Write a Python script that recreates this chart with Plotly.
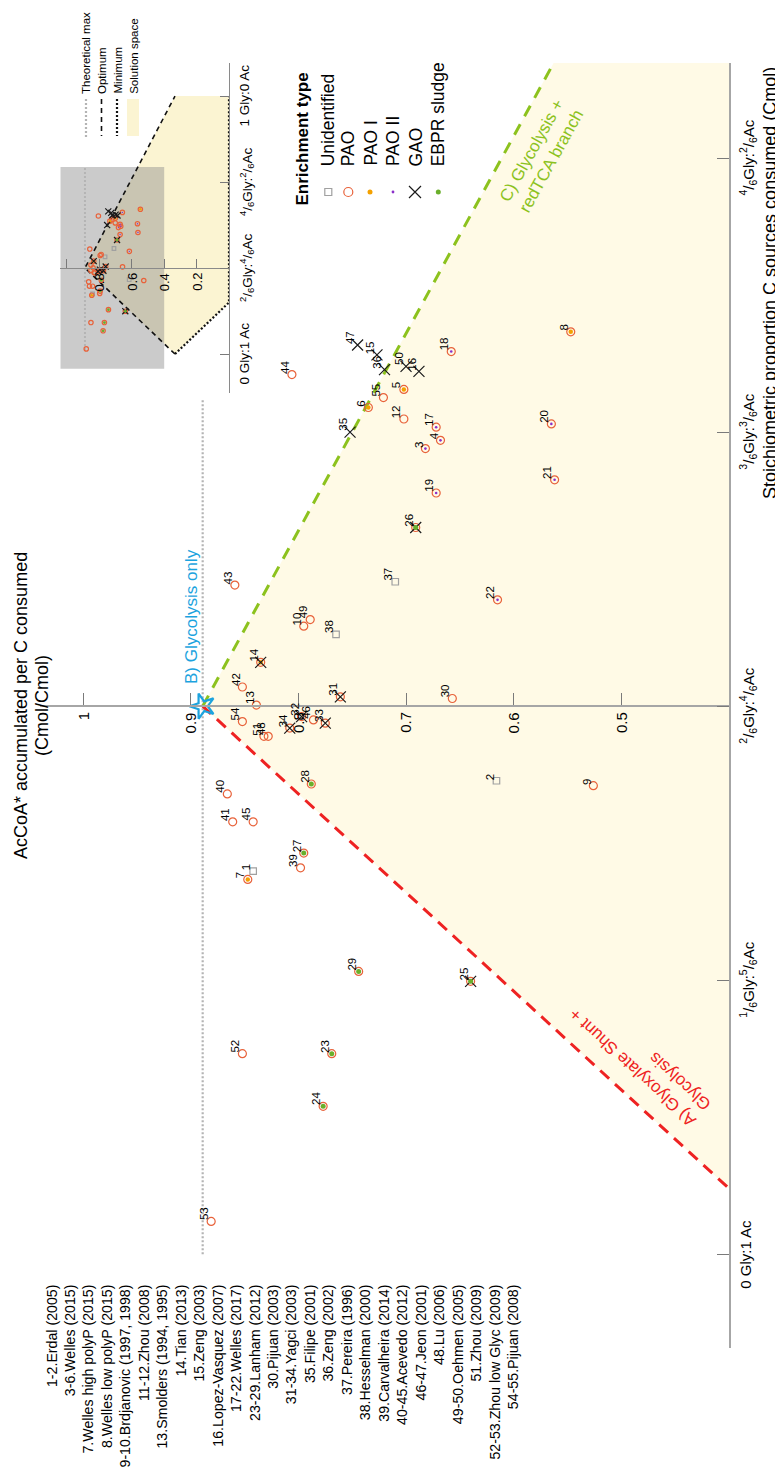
import plotly.graph_objects as go

# ---------------- data ----------------
ids = [1, 2, 3, 4, 5, 6, 7, 8, 9, 10, 12, 13, 14, 15, 16, 17, 18, 19, 20, 21, 22,
       23, 24, 25, 26, 27, 28, 29, 30, 31, 32, 33, 34, 35, 36, 37, 38, 39, 40, 41,
       42, 43, 44, 45, 46, 47, 48, 49, 50, 51, 52, 53, 54, 55]
# AcCoA* accumulated per C consumed (Cmol/Cmol)
acc = [0.842, 0.616, 0.682, 0.668, 0.702, 0.735, 0.847, 0.547, 0.526, 0.795, 0.702,
       0.839, 0.835, 0.727, 0.688, 0.672, 0.658, 0.672, 0.565, 0.562, 0.615,
       0.769, 0.777, 0.640, 0.691, 0.795, 0.788, 0.744, 0.657, 0.761, 0.797,
       0.775, 0.808, 0.752, 0.720, 0.710, 0.765, 0.798, 0.866, 0.861, 0.852,
       0.859, 0.806, 0.842, 0.786, 0.745, 0.828, 0.789, 0.700, 0.832, 0.852,
       0.881, 0.852, 0.721]
# stoichiometric proportion (glycogen fraction of C consumed)
stoich = [0.233, 0.288, 0.490, 0.495, 0.526, 0.515, 0.228, 0.561, 0.285, 0.382, 0.508,
          0.334, 0.360, 0.547, 0.537, 0.503, 0.549, 0.463, 0.505, 0.471, 0.398,
          0.122, 0.090, 0.166, 0.442, 0.244, 0.286, 0.172, 0.338, 0.339, 0.327,
          0.323, 0.320, 0.500, 0.538, 0.409, 0.377, 0.235, 0.280, 0.263, 0.345,
          0.407, 0.535, 0.263, 0.325, 0.553, 0.315, 0.386, 0.540, 0.315, 0.122,
          0.020, 0.324, 0.521]

unidentified = [1, 2, 37, 38]
pao = [3, 4, 5, 6, 7, 8, 9, 10, 12, 13, 14, 17, 18, 19, 20, 21, 22, 23, 24, 25, 26,
       27, 28, 29, 30, 31, 32, 33, 34, 39, 40, 41, 42, 43, 44, 45, 46, 48, 49, 51,
       52, 53, 54, 55]
pao_i = [5, 6, 7, 8, 14]
pao_ii = [3, 4, 17, 18, 19, 20, 21, 22]
gao = [14, 15, 16, 25, 26, 31, 32, 33, 34, 35, 36, 47, 50]
ebpr = [23, 24, 25, 26, 27, 28, 29]

# model lines (stoich, AcCoA)
opt_x = [0, 1 / 3, 1]
opt_y = [1 / 3, 8 / 9, 1 / 3]
min_x = [0, 0.2, 1]
min_y = [1 / 3, 0, 0]
theo_max = 8 / 9
theo_x_main = [0, 0.52]
theo_x_inset = [0.016, 0.725]
glyc_only = [1 / 3, 8 / 9]

acc_ticks = [0.5, 0.6, 0.7, 0.8, 0.9, 1.0]
acc_ticklabels = ["0.5", "0.6", "0.7", "0.8", "0.9", "1"]
st_ticks = [0, 1 / 6, 2 / 6, 3 / 6, 4 / 6]
st_ticklabels = ["0 Gly:1 Ac",
                 "<sup>1</sup>/<sub>6</sub>Gly:<sup>5</sup>/<sub>6</sub>Ac",
                 "<sup>2</sup>/<sub>6</sub>Gly:<sup>4</sup>/<sub>6</sub>Ac",
                 "<sup>3</sup>/<sub>6</sub>Gly:<sup>3</sup>/<sub>6</sub>Ac",
                 "<sup>4</sup>/<sub>6</sub>Gly:<sup>2</sup>/<sub>6</sub>Ac"]
in_acc_ticks = [0.2, 0.4, 0.6, 0.8, 1.0]
in_acc_ticklabels = ["0.2", "0.4", "0.6", "0.8", ""]
in_st_ticks = [0, 1 / 3, 2 / 3, 1]
in_st_ticklabels = ["0 Gly:1 Ac",
                    "<sup>2</sup>/<sub>6</sub>Gly:<sup>4</sup>/<sub>6</sub>Ac",
                    "<sup>4</sup>/<sub>6</sub>Gly:<sup>2</sup>/<sub>6</sub>Ac",
                    "1 Gly:0 Ac"]

citations = ["1-2.Erdal (2005)", "3-6.Welles (2015)", "7.Welles high polyP (2015)",
             "8.Welles low polyP (2015)", "9-10.Brdjanovic (1997, 1998)",
             "11-12.Zhou (2008)", "13.Smolders (1994, 1995)", "14.Tian (2013)",
             "15.Zeng (2003)", "16.Lopez-Vasquez (2007)", "17-22.Welles (2017)",
             "23-29.Lanham (2012)", "30.Pijuan (2003)", "31-34.Yagci (2003)",
             "35.Filipe (2001)", "36.Zeng (2002)", "37.Pereira (1996)",
             "38.Hesselman (2000)", "39.Carvalheira (2014)", "40-45.Acevedo (2012)",
             "46-47.Jeon (2001)", "48.Lu (2006)", "49-50.Oehmen (2005)",
             "51.Zhou (2009)", "52-53.Zhou low Glyc (2009)", "54-55.Pijuan (2008)"]

legend_names = ["Unidentified", "PAO", "PAO I", "PAO II", "GAO", "EBPR sludge"]
model_legend = ["Theoretical max", "Optimum", "Minimum", "Solution space"]

# ---------------- layout constants ----------------
OFF = 8                       # page body margin
W, H = 783 - OFF, 1484 - 2 * OFF
PL, PR, PT, PB = 40, 729, 63, 1348   # plot area in page pixels
ML, MT = PL - OFF, PT - OFF
MR = (OFF + W) - PR
MB = (OFF + H) - PB
PW, PH = PR - PL, PB - PT
ACC_RANGE = [1.04, 0.4]
ST_RANGE = [-0.057, 0.7245]
I_ACC_RANGE = [1.043, 0.0]
I_ST_RANGE = [-0.151, 1.128]
AXIS_CROSS = 1 / 3


def px(p):
    return (p - PL) / PW


def py(p):
    return (PB - p) / PH


IN_DX = [px(60), px(229)]
IN_DY = [py(393), 1.0]

FONT = "Liberation Sans, Arial, Helvetica, sans-serif"
C_PAO = "#E8623A"
C_PAOI = "#F4A100"
C_PAOII = "#8B2FC9"
C_UNID = "#A0A0A0"
C_GAO = "#1A1A1A"
C_EBPR = "#6AAF2B"
C_RED = "#EE2222"
C_GREEN = "#8CC21E"
C_BLUE = "#1CA3DE"
CREAM = "#FFFAE6"
CREAM_IN = "#FBF4D2"


def sel(group):
    idx = [ids.index(i) for i in group]
    return [acc[i] for i in idx], [stoich[i] for i in idx]


fig = go.Figure()

# ---------- main panel ----------
poly_acc = opt_y + min_y[::-1]
poly_st = opt_x + min_x[::-1]
fig.add_trace(go.Scatter(x=poly_acc, y=poly_st, fill="toself", fillcolor=CREAM,
                         mode="lines", line=dict(width=0), hoverinfo="skip",
                         xaxis="x", yaxis="y"))
fig.add_trace(go.Scatter(x=[theo_max, theo_max], y=theo_x_main, mode="lines",
                         line=dict(color="#B4B4B4", width=2.2, dash="2px,2px"),
                         xaxis="x", yaxis="y"))
fig.add_trace(go.Scatter(x=opt_y[0:2], y=opt_x[0:2], mode="lines",
                         line=dict(color=C_RED, width=3, dash="12px,8px"),
                         xaxis="x", yaxis="y"))
fig.add_trace(go.Scatter(x=opt_y[1:3], y=opt_x[1:3], mode="lines",
                         line=dict(color=C_GREEN, width=3, dash="12px,9px"),
                         xaxis="x", yaxis="y"))


def add_markers(xa, ya, scale):
    specs = [
        (unidentified, dict(symbol="square-open", size=6.5 * scale, color=C_UNID,
                            line=dict(color=C_UNID, width=1.2))),
        (pao, dict(symbol="circle-open", size=8 * scale, color=C_PAO,
                   line=dict(color=C_PAO, width=1.2))),
        (pao_i, dict(symbol="circle", size=4.5 * scale, color=C_PAOI, line=dict(width=0))),
        (pao_ii, dict(symbol="circle", size=2.6 * scale, color=C_PAOII, line=dict(width=0))),
        (gao, dict(symbol="x-thin-open", size=11 * scale, color=C_GAO,
                   line=dict(color=C_GAO, width=1.2))),
        (ebpr, dict(symbol="circle", size=5 * scale, color=C_EBPR, line=dict(width=0))),
    ]
    for grp, mk in specs:
        gx, gy = sel(grp)
        fig.add_trace(go.Scatter(x=gx, y=gy, mode="markers", marker=mk,
                                 xaxis=xa, yaxis=ya, cliponaxis=False))


add_markers("x", "y", 1.0)

fig.add_trace(go.Scatter(x=[glyc_only[1]], y=[glyc_only[0]], mode="markers",
                         marker=dict(symbol="star-open", size=19, color=C_BLUE, angle=-90,
                                     line=dict(color=C_BLUE, width=2.2)),
                         xaxis="x", yaxis="y", cliponaxis=False))

# ---------- inset panel ----------
fig.add_trace(go.Scatter(x=poly_acc, y=poly_st, fill="toself", fillcolor=CREAM_IN,
                         mode="lines", line=dict(width=0), xaxis="x2", yaxis="y2"))
fig.add_trace(go.Scatter(x=[ACC_RANGE[0], ACC_RANGE[1], ACC_RANGE[1], ACC_RANGE[0], ACC_RANGE[0]],
                         y=[ST_RANGE[0], ST_RANGE[0], ST_RANGE[1], ST_RANGE[1], ST_RANGE[0]],
                         fill="toself", fillcolor="rgba(140,140,140,0.45)", mode="lines",
                         line=dict(width=0), xaxis="x2", yaxis="y2"))
fig.add_trace(go.Scatter(x=[theo_max, theo_max], y=theo_x_inset, mode="lines",
                         line=dict(color="#B4B4B4", width=2, dash="2px,2px"),
                         xaxis="x2", yaxis="y2"))
fig.add_trace(go.Scatter(x=opt_y, y=opt_x, mode="lines",
                         line=dict(color="#111111", width=1.6, dash="5px,4px"),
                         xaxis="x2", yaxis="y2"))
fig.add_trace(go.Scatter(x=min_y, y=min_x, mode="lines",
                         line=dict(color="#111111", width=2.2, dash="2px,2px"),
                         xaxis="x2", yaxis="y2"))
add_markers("x2", "y2", 0.55)

# ---------- custom legend symbols (overlay axes = paper space) ----------
leg_px = [328.3, 348.3, 370, 393, 415, 438.3]
leg_specs = [
    dict(symbol="square-open", size=7, color=C_UNID, line=dict(color=C_UNID, width=1.2)),
    dict(symbol="circle-open", size=9, color=C_PAO, line=dict(color=C_PAO, width=1.2)),
    dict(symbol="circle", size=5, color=C_PAOI, line=dict(width=0)),
    dict(symbol="circle", size=2.8, color=C_PAOII, line=dict(width=0)),
    dict(symbol="x-thin-open", size=12, color=C_GAO, line=dict(color=C_GAO, width=1.2)),
    dict(symbol="circle", size=5, color=C_EBPR, line=dict(width=0)),
]
for p, mk in zip(leg_px, leg_specs):
    fig.add_trace(go.Scatter(x=[px(p)], y=[py(192)], mode="markers", marker=mk,
                             xaxis="x3", yaxis="y3", cliponaxis=False))

annotations = []
# tick labels (rotated with the chart)
for v, t in zip(acc_ticks, acc_ticklabels):
    annotations.append(dict(x=v, y=AXIS_CROSS, xref="x", yref="y", text=t, showarrow=False,
                            textangle=-90, xanchor="center", yanchor="top", yshift=-5,
                            font=dict(size=15, color="black"), borderpad=0))
for v, t in zip(st_ticks, st_ticklabels):
    annotations.append(dict(x=ACC_RANGE[1], y=v, xref="x", yref="y", text=t, showarrow=False,
                            textangle=-90, xanchor="left", yanchor="middle", xshift=7,
                            font=dict(size=15, color="black"), borderpad=0))
for v, t in zip(in_acc_ticks, in_acc_ticklabels):
    if t:
        annotations.append(dict(x=v, y=AXIS_CROSS, xref="x2", yref="y2", text=t,
                                showarrow=False, textangle=-90, xanchor="center",
                                yanchor="top", yshift=-4,
                                font=dict(size=13, color="black"), borderpad=0))
for v, t in zip(in_st_ticks, in_st_ticklabels):
    annotations.append(dict(x=I_ACC_RANGE[1], y=v, xref="x2", yref="y2", text=t,
                            showarrow=False, textangle=-90, xanchor="left",
                            yanchor="middle", xshift=7,
                            font=dict(size=13.5, color="black"), borderpad=0))

# data labels
dx = 7 / (PW / (ACC_RANGE[0] - ACC_RANGE[1]))
for i, a, s in zip(ids, acc, stoich):
    annotations.append(dict(x=a + dx, y=s, xref="x", yref="y", text=str(i),
                            showarrow=False, textangle=-90, xanchor="center",
                            yanchor="bottom", font=dict(size=11.5, color="black"),
                            borderpad=0))

# legend text: enrichment type
annotations.append(dict(x=px(302), y=py(208), xref="paper", yref="paper",
                        text="<b>Enrichment type</b>", showarrow=False, textangle=-90,
                        xanchor="center", yanchor="bottom", font=dict(size=17, color="black")))
for p, name in zip(leg_px, legend_names):
    annotations.append(dict(x=px(p), y=py(168), xref="paper", yref="paper", text=name,
                            showarrow=False, textangle=-90, xanchor="center",
                            yanchor="bottom", font=dict(size=17.5, color="black")))

# model legend
for p, name in zip([86, 101.5, 117, 133.3], model_legend):
    annotations.append(dict(x=px(p), y=py(95), xref="paper", yref="paper", text=name,
                            showarrow=False, textangle=-90, xanchor="center",
                            yanchor="bottom", font=dict(size=11.5, color="black"),
                            borderpad=0))

# citations
annotations.append(dict(x=px(41), y=py(1283), xref="paper", yref="paper",
                        text="<br>".join(citations), align="right", showarrow=False,
                        textangle=-90, xanchor="left", yanchor="top",
                        font=dict(size=14.2, color="black")))

# axis titles
annotations.append(dict(x=px(10), y=py(706), xref="paper", yref="paper",
                        text="AcCoA* accumulated per C consumed",
                        showarrow=False, textangle=-90, xanchor="left", yanchor="middle",
                        font=dict(size=18, color="black"), borderpad=0))
annotations.append(dict(x=px(31), y=py(706), xref="paper", yref="paper",
                        text="(Cmol/Cmol)",
                        showarrow=False, textangle=-90, xanchor="left", yanchor="middle",
                        font=dict(size=18, color="black"), borderpad=0))
annotations.append(dict(x=px(770), y=py(283), xref="paper", yref="paper",
                        text="Stoichiometric proportion C sources consumed (Cmol)",
                        showarrow=False, textangle=-90, xanchor="center", yanchor="middle",
                        font=dict(size=18, color="black"), borderpad=0))

# pathway annotations
annotations.append(dict(x=px(191), y=py(617), xref="paper", yref="paper",
                        text="B) Glycolysis only", showarrow=False, textangle=-90,
                        xanchor="center", yanchor="middle",
                        font=dict(size=17, color=C_BLUE)))
annotations.append(dict(x=px(542), y=py(156), xref="paper", yref="paper",
                        text="C) Glycolysis +<br>redTCA branch", align="left",
                        showarrow=False, textangle=-61, xanchor="center", yanchor="middle",
                        font=dict(size=17, color=C_GREEN)))
annotations.append(dict(x=px(640), y=py(1060), xref="paper", yref="paper",
                        text="A) Glyoxylate Shunt +<br>Glycolysis", align="left",
                        showarrow=False, textangle=-137.4, xanchor="center", yanchor="middle",
                        font=dict(size=17, color=C_RED)))

shapes = [
    dict(type="line", xref="paper", yref="paper", x0=px(86), x1=px(86), y0=py(99), y1=py(137),
         line=dict(color="#B4B4B4", width=2.2, dash="2px,2px")),
    dict(type="line", xref="paper", yref="paper", x0=px(101.5), x1=px(101.5), y0=py(99),
         y1=py(136), line=dict(color="#111111", width=1.6, dash="5px,4px")),
    dict(type="line", xref="paper", yref="paper", x0=px(117), x1=px(117), y0=py(99),
         y1=py(136), line=dict(color="#111111", width=2.2, dash="2px,2px")),
    dict(type="rect", xref="paper", yref="paper", x0=px(127), x1=px(139), y0=py(99),
         y1=py(136), fillcolor=CREAM_IN, line=dict(width=0)),
]

pos_main = (AXIS_CROSS - ST_RANGE[0]) / (ST_RANGE[1] - ST_RANGE[0])
pos_in = IN_DY[0] + (AXIS_CROSS - I_ST_RANGE[0]) / (I_ST_RANGE[1] - I_ST_RANGE[0]) * (IN_DY[1] - IN_DY[0])

axcommon = dict(showgrid=False, zeroline=False, showline=True, ticks="inside",
                tickcolor="#7A7A7A", tickwidth=1, showticklabels=False, fixedrange=True)

fig.update_layout(
    width=W, height=H, margin=dict(l=ML, r=MR, t=MT, b=MB, pad=0),
    paper_bgcolor="white", plot_bgcolor="rgba(0,0,0,0)", showlegend=False,
    font=dict(family=FONT, color="black"),
    xaxis=dict(domain=[0, 1], range=ACC_RANGE, anchor="free", position=pos_main,
               linecolor="#A6A6A6", linewidth=2, ticklen=12, tickvals=acc_ticks, **axcommon),
    yaxis=dict(domain=[0, 1], range=ST_RANGE, anchor="x", side="right",
               linecolor="#A6A6A6", linewidth=2, ticklen=12, tickvals=st_ticks, **axcommon),
    xaxis2=dict(domain=IN_DX, range=I_ACC_RANGE, anchor="free", position=pos_in,
                linecolor="#8A8A8A", linewidth=1.2, ticklen=9, tickvals=in_acc_ticks,
                **axcommon),
    yaxis2=dict(domain=IN_DY, range=I_ST_RANGE, anchor="x2", side="right",
                linecolor="#8A8A8A", linewidth=1.2, ticklen=9, tickvals=in_st_ticks,
                **axcommon),
    xaxis3=dict(overlaying="x", range=[0, 1], visible=False, anchor="y3", fixedrange=True),
    yaxis3=dict(overlaying="y", range=[0, 1], visible=False, anchor="x3", fixedrange=True),
    annotations=annotations,
    shapes=shapes,
)

fig.write_html("out.html")
